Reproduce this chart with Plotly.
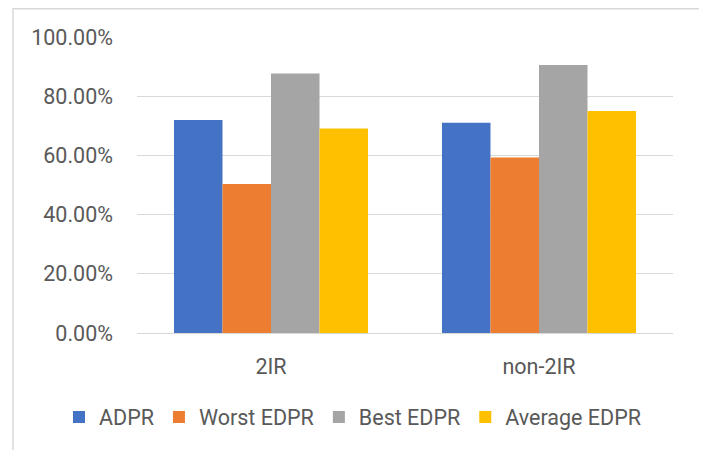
import plotly.graph_objects as go

categories = ["2IR", "non-2IR"]
series_names = ["ADPR", "Worst EDPR", "Best EDPR", "Average EDPR"]
adpr = [0.720, 0.710]
worst_edpr = [0.503, 0.593]
best_edpr = [0.877, 0.905]
average_edpr = [0.691, 0.750]
colors = ["#4472C4", "#ED7D31", "#A5A5A5", "#FFC000"]
y_ticks = [0, 0.2, 0.4, 0.6, 0.8, 1.0]

fig = go.Figure()
for name, vals, col in zip(series_names, [adpr, worst_edpr, best_edpr, average_edpr], colors):
    fig.add_trace(go.Bar(x=categories, y=vals, name=name, marker=dict(color=col, line=dict(width=0))))

# page has an 8px body margin; figure coords = page coords - 8
W, H = 707, 450
L, R, T, B = 129, 42, 29, 125
PW, PH = W - L - R, H - T - B

font_family = "Roboto, 'Open Sans', sans-serif"
fig.update_layout(
    width=W, height=H,
    margin=dict(l=L, r=R, t=T, b=B, autoexpand=False),
    paper_bgcolor="white", plot_bgcolor="white",
    barmode="group", bargap=0.276, bargroupgap=0,
    font=dict(family=font_family, size=21.5, color="#595959"),
    showlegend=True,
    legend=dict(orientation="h", x=(51 - L) / PW, xanchor="left", y=(T + PH - 409) / PH,
                yanchor="middle", font=dict(size=21.5, color="#595959"), itemwidth=30,
                traceorder="normal", bgcolor="rgba(0,0,0,0)"),
    xaxis=dict(showgrid=False, showline=True, linecolor="#d9d9d9", linewidth=1,
               ticks="", ticklabelstandoff=14, tickfont=dict(size=21.5, color="#595959")),
    yaxis=dict(range=[0, 1.0], tickvals=y_ticks, tickformat=".2%", showgrid=True,
               gridcolor="#d9d9d9", gridwidth=1, zeroline=False, showline=False,
               ticklabelstandoff=23, tickfont=dict(size=21.5, color="#595959")),
    shapes=[dict(type="rect", xref="paper", yref="paper", x0=(5 - L) / PW, x1=(694 - L) / PW,
                 y0=-0.5, y1=1 + (T - 0.75) / PH, line=dict(color="#d9d9d9", width=1.5),
                 fillcolor="rgba(0,0,0,0)", layer="below")],
)
fig.write_html("out.html")
